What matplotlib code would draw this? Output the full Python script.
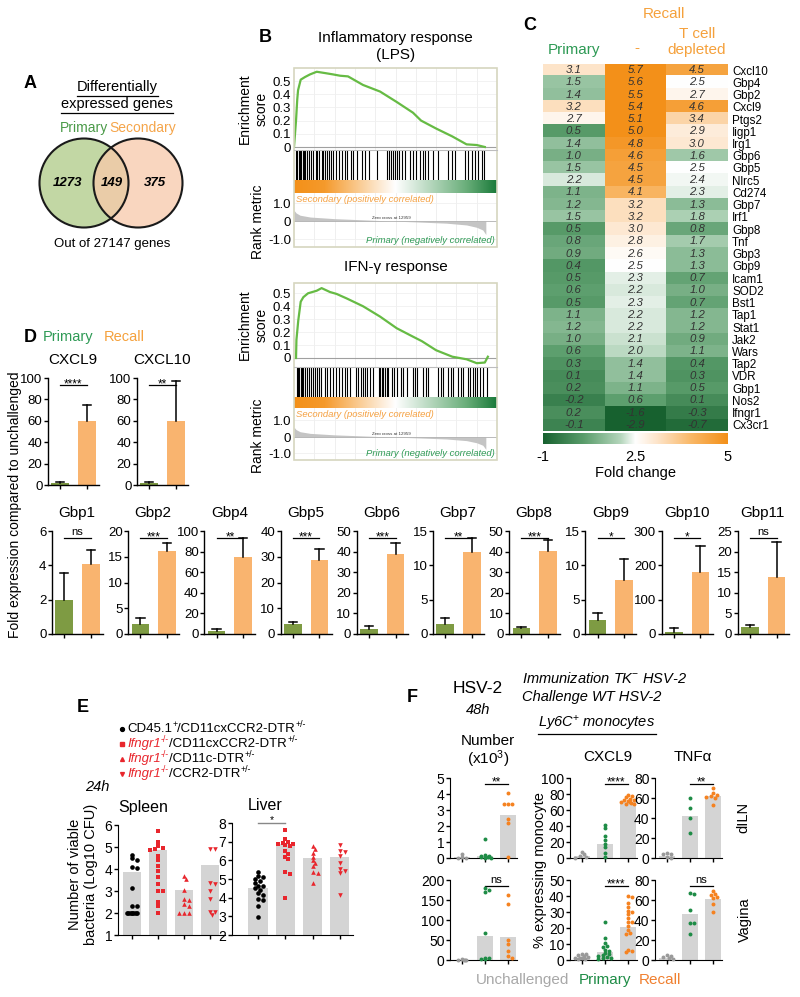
import numpy as np
import matplotlib
matplotlib.use('Agg')
import matplotlib.pyplot as plt
from matplotlib.colors import LinearSegmentedColormap, TwoSlopeNorm
from matplotlib.patches import Circle, Rectangle
import matplotlib.transforms as mtransforms

plt.rcParams['font.family'] = ['Liberation Sans', 'DejaVu Sans']
plt.rcParams['mathtext.fontset'] = 'custom'
plt.rcParams['mathtext.rm'] = 'Liberation Sans'
plt.rcParams['mathtext.it'] = 'Liberation Sans:italic'
plt.rcParams['mathtext.bf'] = 'Liberation Sans:bold'

# ---------------- data ----------------
# A
venn_sets = ['Primary', 'Secondary']
venn_counts = [1273, 149, 375]
total_genes = 27147

# B (positions as fraction of ranked gene list)
es_lps_pos = [0.0, 0.010, 0.016, 0.020, 0.033, 0.054, 0.079, 0.112, 0.153, 0.192, 0.227, 0.266,
              0.340, 0.424, 0.507, 0.586, 0.626, 0.700, 0.780, 0.850, 0.900, 0.940]
es_lps_val = [0.0, 0.20, 0.36, 0.43, 0.51, 0.53, 0.55, 0.57, 0.56, 0.55, 0.54, 0.535,
              0.47, 0.42, 0.34, 0.26, 0.20, 0.14, 0.08, 0.02, 0.015, 0.0]
hits_lps = [0.010, 0.016, 0.023, 0.030, 0.036, 0.043, 0.049, 0.056, 0.066, 0.076, 0.082, 0.092,
            0.108, 0.115, 0.125, 0.136, 0.144, 0.153, 0.161, 0.171, 0.181, 0.194, 0.207, 0.223,
            0.236, 0.251, 0.263, 0.279, 0.292, 0.309, 0.333, 0.350, 0.371, 0.407, 0.457, 0.470,
            0.479, 0.489, 0.499, 0.509, 0.519, 0.530, 0.547, 0.571, 0.585, 0.601, 0.621, 0.637,
            0.645, 0.662, 0.686, 0.711, 0.760, 0.777, 0.793, 0.842, 0.859, 0.875, 0.892, 0.908,
            0.925, 0.936]
es_ifn_pos = [0.010, 0.012, 0.021, 0.033, 0.046, 0.069, 0.112, 0.136, 0.177, 0.210, 0.260, 0.340,
              0.424, 0.506, 0.586, 0.630, 0.700, 0.780, 0.850, 0.900, 0.940, 0.955]
es_ifn_val = [0.0, 0.14, 0.29, 0.435, 0.47, 0.50, 0.52, 0.54, 0.51, 0.495, 0.46, 0.40,
              0.32, 0.23, 0.165, 0.13, 0.06, 0.01, -0.01, -0.04, -0.035, 0.01]
hits_ifn = [0.013, 0.020, 0.026, 0.033, 0.039, 0.046, 0.056, 0.066, 0.072, 0.082, 0.095, 0.105,
            0.115, 0.125, 0.131, 0.153, 0.164, 0.177, 0.194, 0.207, 0.223, 0.235, 0.251, 0.263,
            0.276, 0.305, 0.317, 0.328, 0.338, 0.350, 0.361, 0.374, 0.388, 0.417, 0.424, 0.432,
            0.440, 0.448, 0.457, 0.465, 0.481, 0.493, 0.506, 0.525, 0.539, 0.555, 0.585, 0.596,
            0.608, 0.634, 0.650, 0.662, 0.711, 0.722, 0.736, 0.760, 0.772, 0.785, 0.810, 0.821,
            0.834, 0.859, 0.867, 0.880, 0.892, 0.903, 0.916, 0.933, 0.949]
rank_pos = [0.0, 0.01, 0.03, 0.08, 0.20, 0.35, 0.477, 0.60, 0.75, 0.85, 0.90, 0.93, 0.945]
rank_val = [0.60, 0.45, 0.32, 0.22, 0.13, 0.06, 0.0, -0.05, -0.12, -0.22, -0.35, -0.50, -0.75]
zero_cross = 12959

# C
hm_genes = ['Cxcl10', 'Gbp4', 'Gbp2', 'Cxcl9', 'Ptgs2', 'Iigp1', 'Irg1', 'Gbp6', 'Gbp5', 'Nlrc5',
            'Cd274', 'Gbp7', 'Irf1', 'Gbp8', 'Tnf', 'Gbp3', 'Gbp9', 'Icam1', 'SOD2', 'Bst1',
            'Tap1', 'Stat1', 'Jak2', 'Wars', 'Tap2', 'VDR', 'Gbp1', 'Nos2', 'Ifngr1', 'Cx3cr1']
hm_primary = [3.1, 1.5, 1.4, 3.2, 2.7, 0.5, 1.4, 1.0, 1.5, 2.2, 1.1, 1.2, 1.5, 0.5, 0.8, 0.9, 0.4,
              0.5, 0.6, 0.5, 1.1, 1.2, 1.0, 0.6, 0.3, 0.1, 0.2, -0.2, 0.2, -0.1]
hm_recall = [5.7, 5.6, 5.5, 5.4, 5.1, 5.0, 4.8, 4.6, 4.5, 4.5, 4.1, 3.2, 3.2, 3.0, 2.8, 2.6, 2.5,
             2.3, 2.2, 2.3, 2.2, 2.2, 2.1, 2.0, 1.4, 1.4, 1.1, 0.6, -1.6, -2.9]
hm_tdep = [4.5, 2.5, 2.7, 4.6, 3.4, 2.9, 3.0, 1.6, 2.5, 2.4, 2.3, 1.3, 1.8, 0.8, 1.7, 1.3, 1.3,
           0.7, 1.0, 0.7, 1.2, 1.2, 0.9, 1.1, 0.4, 0.3, 0.5, 0.1, -0.3, -0.7]
hm_cols = ['Primary', '-', 'T cell\ndepleted']
cbar_ticks = [-1, 2.5, 5]

# D
d_genes = ['CXCL9', 'CXCL10', 'Gbp1', 'Gbp2', 'Gbp4', 'Gbp5', 'Gbp6', 'Gbp7', 'Gbp8', 'Gbp9',
           'Gbp10', 'Gbp11']
d_prim = [1.5, 1.5, 2.0, 2.0, 2.6, 3.9, 2.4, 1.4, 2.7, 2.1, 5, 1.7]
d_prim_err = [1.2, 1.2, 1.55, 1.2, 2.2, 0.6, 1.5, 1.0, 0.8, 0.9, 12, 0.5]
d_rec = [60, 60, 4.1, 16.1, 75, 28.8, 38.8, 12, 40.5, 7.9, 180, 13.8]
d_rec_err = [15, 37, 0.8, 1.6, 18.5, 4.1, 5.5, 2, 5, 3, 75, 8.5]
d_sig = ['****', '**', 'ns', '***', '**', '***', '***', '**', '***', '*', '*', 'ns']
d_ymax = [100, 100, 6, 20, 100, 40, 50, 15, 50, 15, 300, 25]
d_ystep = [20, 20, 2, 5, 20, 10, 10, 5, 10, 5, 100, 5]

# E
e_groups = ['CD45.1+/CD11cxCCR2-DTR+/-', 'Ifngr1-/-/CD11cxCCR2-DTR+/-',
            'Ifngr1-/-/CD11c-DTR+/-', 'Ifngr1-/-/CCR2-DTR+/-']
spleen_bar = [3.85, 4.85, 3.05, 4.2]
spleen_pts = [
    [4.65, 4.48, 4.4, 4.1, 4.05, 3.12, 2.3, 2.3, 2.0, 2.0, 2.0, 2.0, 2.0, 2.0, 2.0, 2.0],
    [5.75, 5.25, 5.05, 4.95, 4.9, 4.85, 4.6, 4.4, 4.15, 3.9, 3.65, 3.3, 3.0, 3.0, 2.5, 2.3, 2.0],
    [3.7, 3.55, 3.05, 2.65, 2.6, 2.4, 2.3, 2.0, 2.0, 2.0],
    [4.9, 4.9, 3.35, 3.3, 3.0, 2.65, 2.05, 2.05, 1.9],
]
liver_bar = [4.5, 6.85, 6.15, 6.2]
liver_pts = [
    [5.35, 5.15, 5.1, 5.0, 4.9, 4.8, 4.65, 4.6, 4.5, 4.4, 4.25, 4.15, 3.95, 3.9, 3.55, 2.95],
    [7.65, 7.15, 7.0, 6.95, 6.9, 6.85, 6.8, 6.75, 6.5, 6.35, 6.2, 6.05, 5.35, 5.25, 4.0],
    [6.75, 6.6, 6.4, 6.2, 6.0, 5.85, 5.7, 5.4, 5.3, 4.8],
    [6.8, 6.5, 6.45, 6.25, 5.85, 5.55, 5.45, 5.3, 4.15],
]

# F  (groups: Unchallenged, Primary, Recall)
f_groups = ['Unchallenged', 'Primary', 'Recall']
f_num_dln_bar = [0.05, 0.1, 2.7]
f_num_dln = [[0.0, 0.0, 0.05, 0.25], [1.2, 0.2, 0.15, 0.1, 0.05, 0.05, 0.0, 0.0],
             [4.05, 3.4, 3.35, 3.4, 2.45, 2.2, 0.05]]
f_cx_dln_bar = [2.5, 17, 70]
f_cx_dln = [[8, 4.5, 2, 1.5, 0.5], [41, 37, 27, 23, 18, 14, 6, 1.5],
            [79, 77, 76, 74, 73, 72, 71, 70, 69, 68, 68, 70]]
f_tnf_dln_bar = [2.5, 42, 62]
f_tnf_dln = [[5, 4.5, 4, 1.5, 0.5], [60, 50, 40, 25], [70, 65, 63, 62, 61, 60, 53]]
f_num_vag_bar = [1, 60, 58]
f_num_vag = [[2, 1, 1, 0, 0], [180, 175, 170, 67, 5, 4, 3, 2], [162, 140, 50, 40, 22, 10, 5]]
f_cx_vag_bar = [1.5, 5, 20.5]
f_cx_vag = [[4, 4, 3, 2.5, 2, 1.5, 1.5, 1, 1, 0.5, 0.5],
            [23.5, 14, 10.5, 9, 8, 6.5, 5.5, 4.5, 3.5, 3, 2.5, 2, 1.5, 1, 0.5],
            [40, 39.5, 35.5, 33, 30.5, 30, 28.5, 26.5, 24, 23.5, 21.5, 18.5, 17, 16, 6.5, 5.5, 5]]
f_tnf_vag_bar = [2.5, 46, 61]
f_tnf_vag = [[5, 4.5, 3, 2, 1], [67, 66, 50, 37.5, 37.5, 26], [69, 66, 65, 63, 62, 56, 48]]
f_sig = [['**', '****', '**'], ['ns', '****', 'ns']]
f_ymax = [[5, 100, 80], [200, 50, 80]]
f_ystep = [[1, 20, 20], [50, 10, 20]]

# ---------------- figure ----------------
W, H = 800, 997
fig = plt.figure(figsize=(W / 100, H / 100), dpi=100)


def add_ax(x0, y0, x1, y1, **kw):
    return fig.add_axes([x0 / W, 1 - y1 / H, (x1 - x0) / W, (y1 - y0) / H], **kw)


ov = fig.add_axes([0, 0, 1, 1], zorder=20)
ov.set_xlim(0, W)
ov.set_ylim(H, 0)
ov.axis('off')
ov.patch.set_alpha(0)
renderer = fig.canvas.get_renderer()

GREEN_T = '#2e9a55'
ORANGE_T = '#f5a13c'


def T(x, y, s, **kw):
    kw.setdefault('ha', 'center')
    kw.setdefault('va', 'center')
    return ov.text(x, y, s, **kw)


def underline(t, dy=2, lw=0.9, color='k'):
    bb = t.get_window_extent(renderer=renderer)
    y = H - bb.y0 + dy
    ov.plot([bb.x0, bb.x1], [y, y], color=color, lw=lw)


def rich(x, y, parts, fs):
    """parts: (text, colour, style, superscript?)"""
    for s, c, st, sup in parts:
        if sup:
            t = ov.text(x + 0.3, y - 4.2, s, color=c, fontsize=fs * 0.66, style='normal',
                        ha='left', va='center')
        else:
            t = ov.text(x, y, s, color=c, fontsize=fs, style=st, ha='left', va='center')
        bb = t.get_window_extent(renderer=renderer)
        x += bb.width + (0.3 if sup else 0)


# ---------------- Panel A ----------------
T(30, 83, 'A', fontsize=13, fontweight='bold')
t1 = T(117, 87, 'Differentially', fontsize=10.5)
t2 = T(117, 104, 'expressed genes', fontsize=10.5)
underline(t1)
underline(t2)
T(84, 128, venn_sets[0], color='#4a9a48', fontsize=10)
T(143, 128, venn_sets[1], color='#f5a54a', fontsize=10)
ov.add_patch(Circle((84, 183), 44.5, facecolor='#bcd39a', edgecolor='none', alpha=0.9))
ov.add_patch(Circle((138, 183), 44.5, facecolor='#f8c9aa', edgecolor='none', alpha=0.75))
ov.add_patch(Circle((84, 183), 44.5, facecolor='none', edgecolor='#1a1a1a', lw=1.5))
ov.add_patch(Circle((138, 183), 44.5, facecolor='none', edgecolor='#1a1a1a', lw=1.5))
for xx, c in zip([68, 112, 155], venn_counts):
    T(xx, 183, str(c), fontsize=9.5, fontweight='bold', style='italic')
T(112, 244, 'Out of %d genes' % total_genes, fontsize=9.5)

# ---------------- Panel B ----------------
T(265, 38, 'B', fontsize=13, fontweight='bold')
gsea_cmap = LinearSegmentedColormap.from_list(
    'gsea', [(0, '#f39018'), (0.15, '#f59a2c'), (0.5, '#ffffff'), (0.85, '#6aae7a'), (1, '#1a7a3a')])
FRAME = '#d6d6bf'


def gsea(x0, x1, ys, es_pos, es_val, hits, es0, es_px, r0, r_px, title_lines, title_y):
    y_top, y_es, y_hit, y_cb, y_bot = ys
    # ES
    ax = add_ax(x0, y_top, x1, y_es)
    for gx in np.arange(0.1, 1.0, 0.1):
        ax.axvline(gx, color='#ececec', lw=0.6, zorder=0)
    ax.plot(es_pos, es_val, color='#66bb44', lw=1.6, zorder=3)
    ax.axhline(0, color='#a0a0a0', lw=0.8, zorder=2)
    ax.set_xlim(0, 1)
    ax.set_ylim(-(y_es - es0) / es_px, (es0 - y_top) / es_px)
    ticks = [0, 0.1, 0.2, 0.3, 0.4, 0.5]
    ax.set_yticks(ticks)
    ax.set_yticklabels(['0', '0.1', '0.2', '0.3', '0.4', '0.5'])
    for yy in ticks[1:]:
        ax.axhline(yy, color='#f0f0f0', lw=0.6, zorder=0)
    ax.set_xticks([])
    ax.tick_params(axis='y', length=0, pad=2, labelsize=9.5)
    for s in ax.spines.values():
        s.set_visible(False)
    ov.plot([x0, x1], [y_es, y_es], color='#bdbdbd', lw=0.8)
    # hits
    axh = add_ax(x0, y_es, x1, y_hit)
    axh.vlines(hits, 0, 1, color='k', lw=0.8)
    axh.set_xlim(0, 1)
    axh.set_ylim(0, 1)
    axh.axis('off')
    # colour bar
    axc = add_ax(x0, y_hit, x1, y_cb)
    axc.imshow(np.linspace(0, 1, 256)[None, :], cmap=gsea_cmap, aspect='auto', extent=[0, 1, 0, 1])
    axc.axis('off')
    # rank metric
    axr = add_ax(x0, y_cb, x1, y_bot)
    for gx in np.arange(0.1, 1.0, 0.1):
        axr.axvline(gx, color='#ececec', lw=0.6, zorder=0)
    for yy in [-1, 1]:
        axr.axhline(yy, color='#f0f0f0', lw=0.6, zorder=0)
    axr.fill_between(rank_pos, 0, rank_val, color='#c4c4c4', lw=0, zorder=2)
    axr.axhline(0, color='#b0b0b0', lw=0.6, zorder=2)
    axr.set_xlim(0, 1)
    axr.set_ylim(-(y_bot - r0) / r_px, (r0 - y_cb) / r_px)
    axr.set_yticks([1, 0, -1])
    axr.set_yticklabels(['1.0', '0', '-1.0'])
    axr.set_xticks([])
    axr.tick_params(axis='y', length=0, pad=2, labelsize=9.5)
    for s in axr.spines.values():
        s.set_visible(False)
    axr.text(0.008, 0.97, 'Secondary (positively correlated)', transform=axr.transAxes,
             color='#f5a040', style='italic', fontsize=6.8, ha='left', va='top')
    axr.text(0.99, 0.03, 'Primary (negatively correlated)', transform=axr.transAxes,
             color='#2e9a55', style='italic', fontsize=6.8, ha='right', va='bottom')
    axr.text(zero_cross / total_genes, 0.08, 'Zero cross at %d' % zero_cross,
             fontsize=3.2, ha='center', va='bottom', color='#333333')
    ov.add_patch(Rectangle((x0, y_top), x1 - x0, y_bot - y_top, fill=False,
                           edgecolor=FRAME, lw=1.2))
    for i, ln in enumerate(title_lines):
        T((x0 + x1) / 2, title_y + 17 * i, ln, fontsize=11)
    T(245, (y_top + y_es) / 2, 'Enrichment', rotation=90, fontsize=10)
    T(262, (y_top + y_es) / 2, 'score', rotation=90, fontsize=10)
    T(258, (y_cb + y_bot) / 2 + 2, 'Rank metric', rotation=90, fontsize=10)


gsea(294, 497, (68, 150, 180, 193, 247), es_lps_pos, es_lps_val, hits_lps,
     147, 132, 221, 18, ['Inflammatory response', '(LPS)'], 38)
gsea(294, 497, (283, 367, 397, 408, 460), es_ifn_pos, es_ifn_val, hits_ifn,
     358, 129.4, 437, 16.5, ['IFN-γ response'], 267)

# ---------------- Panel C ----------------
T(530, 25, 'C', fontsize=13, fontweight='bold')
hm_cmap = LinearSegmentedColormap.from_list(
    'hm', [(0, '#17612f'), (0.22, '#5a9d6b'), (0.42, '#b5d6bc'), (0.5, '#ffffff'),
           (0.62, '#fde4c9'), (0.8, '#f9b868'), (1.0, '#f39019')])
hm_norm = TwoSlopeNorm(vcenter=2.5, vmin=-1, vmax=5)
M = np.array([hm_primary, hm_recall, hm_tdep]).T
axh = add_ax(543, 64, 728, 431)
axh.imshow(M, cmap=hm_cmap, norm=hm_norm, aspect='auto', interpolation='nearest')
for r in range(M.shape[0]):
    for c in range(M.shape[1]):
        axh.text(c, r, '%.1f' % M[r, c], ha='center', va='center', fontsize=8.2,
                 style='italic', color='#333333')
axh.set_xticks([])
axh.set_yticks(range(len(hm_genes)))
axh.set_yticklabels(hm_genes, fontsize=8.4)
axh.yaxis.tick_right()
axh.tick_params(axis='y', length=0, pad=3)
for s in axh.spines.values():
    s.set_visible(False)
T(664, 14, 'Recall', color=ORANGE_T, fontsize=11)
T(574, 50, hm_cols[0], color=GREEN_T, fontsize=11)
T(637, 48, hm_cols[1], color=ORANGE_T, fontsize=11)
T(697, 42, hm_cols[2], color=ORANGE_T, fontsize=11, linespacing=1.1)
axcb = add_ax(543, 433, 728, 444)
axcb.imshow(np.linspace(0, 1, 256)[None, :], cmap=hm_cmap, aspect='auto', extent=[0, 1, 0, 1])
axcb.axis('off')
for v, xx in zip(cbar_ticks, [543, 635.5, 728]):
    T(xx, 457, ('%g' % v), fontsize=10.5)
T(635.5, 473, 'Fold change', fontsize=10.5)

# ---------------- Panel D ----------------
D_GREEN = '#7e9b43'
D_ORANGE = '#f9b46f'


def sig(ax, x0, x1, frac, label, fs=8.5, color='k', lw=0.9):
    tr = mtransforms.blended_transform_factory(ax.transData, ax.transAxes)
    ax.plot([x0, x1], [frac, frac], transform=tr, color=color, lw=lw, clip_on=False)
    if label == 'ns':
        ax.text((x0 + x1) / 2, frac + 0.015, label, transform=tr, ha='center', va='bottom',
                fontsize=fs - 0.5, clip_on=False)
    else:
        ax.text((x0 + x1) / 2, frac - 0.05, label, transform=tr, ha='center', va='bottom',
                fontsize=fs, clip_on=False)


T(30, 337, 'D', fontsize=13, fontweight='bold')
T(68, 337, 'Primary', color='#2e9a55', fontsize=10.5)
T(124, 337, 'Recall', color=ORANGE_T, fontsize=10.5)
T(15, 505, 'Fold expression compared to unchallenged', rotation=90, fontsize=10)

for i, g in enumerate(d_genes):
    if i < 2:
        x0 = [48, 137][i]
        y0, y1 = 378, 485
    else:
        x0 = 52 + 76.2 * (i - 2)
        y0, y1 = 531, 634
    ax = add_ax(x0, y0, x0 + 51, y1)
    ax.bar([0, 1], [d_prim[i], d_rec[i]], width=0.66, color=[D_GREEN, D_ORANGE], zorder=2)
    for xx, m, e in [(0, d_prim[i], d_prim_err[i]), (1, d_rec[i], d_rec_err[i])]:
        ax.plot([xx, xx], [m, m + e], color='k', lw=1.1, zorder=3, clip_on=False)
        ax.plot([xx - 0.16, xx + 0.16], [m + e, m + e], color='k', lw=1.1, zorder=3, clip_on=False)
    ax.set_xlim(-0.46, 1.46)
    ax.set_ylim(0, d_ymax[i])
    ax.set_yticks(np.arange(0, d_ymax[i] + 1e-9, d_ystep[i]))
    ax.set_xticks([0, 1])
    ax.set_xticklabels([])
    ax.tick_params(length=3, width=1, labelsize=9.5, pad=1)
    for s in ['top', 'right']:
        ax.spines[s].set_visible(False)
    for s in ['left', 'bottom']:
        ax.spines[s].set_linewidth(1)
    sig(ax, 0, 1, 0.93, d_sig[i])
    T(x0 + 25, y0 - 18, g, fontsize=11)

# ---------------- Panel E ----------------
RED = '#e8262d'


def swarm(ax, xc, vals, marker, color, size, diam_px, maxhalf):
    trans = ax.transData
    inv = trans.inverted()
    placed = []
    xs, ys = [], []
    step = diam_px * 0.6
    for v in sorted(vals, reverse=True):
        xd0, yd = trans.transform((xc, v))
        best = None
        for k in range(0, 40):
            off = ((k + 1) // 2) * step * (1 if k % 2 == 1 else -1)
            if abs(off) > maxhalf:
                continue
            xd = xd0 + off
            if all((xd - px) ** 2 + (yd - py) ** 2 >= (diam_px * 0.85) ** 2 for px, py in placed):
                best = xd
                break
        if best is None:
            best = xd0 + ((len(placed) % 5) - 2) * step * 0.8
        placed.append((best, yd))
        xs.append(inv.transform((best, yd))[0])
        ys.append(v)
    ax.scatter(xs, ys, marker=marker, s=size, color=color, zorder=4, linewidths=0, clip_on=False)


T(83, 707, 'E', fontsize=13, fontweight='bold')
e_markers = ['o', 's', '^', 'v']
e_colors = ['k', RED, RED, RED]
leg_y = [729, 744, 759, 774]
ov.plot(122, leg_y[0], marker='o', ms=2.8, color='k')
rich(127, leg_y[0], [('CD45.1', 'k', 'normal', False), ('+', 'k', 'normal', True),
                     ('/CD11cxCCR2-DTR', 'k', 'normal', False), ('+/-', 'k', 'normal', True)], 9.5)
for j, tail in enumerate(['/CD11cxCCR2-DTR', '/CD11c-DTR', '/CCR2-DTR']):
    ov.plot(122, leg_y[j + 1], marker=e_markers[j + 1], ms=2.8, color=RED)
    rich(127, leg_y[j + 1], [('Ifngr1', RED, 'italic', False), ('-/-', RED, 'italic', True),
                             (tail, 'k', 'normal', False), ('+/-', 'k', 'normal', True)], 9.5)
T(97, 787, '24h', style='italic', fontsize=10.5)
T(143, 807, 'Spleen', fontsize=11.5)
T(265, 805, 'Liver', fontsize=11.5)
T(75, 874, 'Number of viable', rotation=90, fontsize=10.5)
T(91, 874, 'bacteria (Log10 CFU)', rotation=90, fontsize=10.5)

for (x0, x1, y0, xl, yl, bars, pts) in [
        (118, 225, 825, (-0.54, 3.58), (1, 6), spleen_bar, spleen_pts),
        (232, 353, 823, (-0.95, 3.48), (2, 8), liver_bar, liver_pts)]:
    ax = add_ax(x0, y0, x1, 935)
    ax.bar(range(4), bars, width=0.7, color='#d4d4d4', zorder=1)
    ax.set_xlim(*xl)
    ax.set_ylim(*yl)
    ax.set_yticks(np.arange(yl[0], yl[1] + 0.1, 1))
    ax.set_xticks(range(4))
    ax.set_xticklabels([])
    ax.tick_params(length=3, width=1, labelsize=10, pad=1)
    for s in ['top', 'right']:
        ax.spines[s].set_visible(False)
    for g in range(4):
        swarm(ax, g, pts[g], e_markers[g], e_colors[g], 11, 4.2, 9)
    if yl[1] == 8:
        tr = mtransforms.blended_transform_factory(ax.transData, ax.transAxes)
        ax.plot([0, 1], [1.0, 1.0], transform=tr, color='#888888', lw=1, clip_on=False)
        ax.text(0.5, 0.985, '*', transform=tr, ha='center', va='bottom', fontsize=7.5,
                clip_on=False)

# ---------------- Panel F ----------------
F_COLORS = ['#9a9a9a', '#1e8c46', '#f58220']
T(412, 697, 'F', fontsize=13, fontweight='bold')
T(478, 688, 'HSV-2', fontsize=12.5)
T(478, 710, '48h', style='italic', fontsize=10.5)
T(522, 678, 'Immunization TK$^{-}$ HSV-2', style='italic', fontsize=10.5, ha='left')
T(522, 697, 'Challenge WT HSV-2', style='italic', fontsize=10.5, ha='left')
tl = T(597, 723, 'Ly6C$^{+}$ monocytes', style='italic', fontsize=10.5)
underline(tl, dy=1.5)
T(488, 741, 'Number', fontsize=11)
T(488, 759, '(x10$^{3}$)', fontsize=11)
T(608, 757, 'CXCL9', fontsize=11)
T(693, 757, 'TNFα', fontsize=11)
T(540, 870, '% expressing monocyte', rotation=90, fontsize=10.5)
T(743, 817, 'dILN', rotation=90, fontsize=10.5)
T(745, 920, 'Vagina', rotation=90, fontsize=10.5)
T(523, 980, f_groups[0], color='#a8a8a8', fontsize=11)
T(605, 980, f_groups[1], color='#1e8c46', fontsize=11)
T(660, 980, f_groups[2], color='#f08030', fontsize=11)

f_bars = [[f_num_dln_bar, f_cx_dln_bar, f_tnf_dln_bar], [f_num_vag_bar, f_cx_vag_bar, f_tnf_vag_bar]]
f_pts = [[f_num_dln, f_cx_dln, f_tnf_dln], [f_num_vag, f_cx_vag, f_tnf_vag]]
f_x0 = [450, 570, 655]
f_rows = [(778, 858), (880, 960)]
for r in range(2):
    for c in range(3):
        x0 = f_x0[c]
        ax = add_ax(x0, f_rows[r][0], x0 + 67, f_rows[r][1])
        ax.bar(range(3), f_bars[r][c], width=0.7, color='#d4d4d4', zorder=1)
        ax.set_xlim(-0.52, 2.4)
        ax.set_ylim(0, f_ymax[r][c])
        ax.set_yticks(np.arange(0, f_ymax[r][c] + 1e-9, f_ystep[r][c]))
        ax.set_xticks(range(3))
        ax.set_xticklabels([])
        ax.tick_params(length=3, width=1, labelsize=10, pad=1)
        for s in ['top', 'right']:
            ax.spines[s].set_visible(False)
        for g in range(3):
            swarm(ax, g, f_pts[r][c][g], 'o', F_COLORS[g], 8, 3.6, 7)
        sig(ax, 1, 2, 0.92, f_sig[r][c], fs=8.5)

fig.savefig('out.png', dpi=100)
